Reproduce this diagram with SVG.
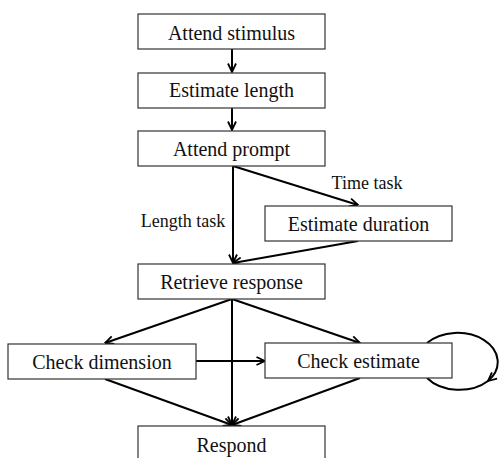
<svg xmlns="http://www.w3.org/2000/svg" width="499" height="458" viewBox="0 0 499 458">
<defs>
<style>
.box{fill:#fff;stroke:#333;stroke-width:1.2}
.lbl{font-family:"Liberation Serif","Times New Roman",serif;font-size:20px;fill:#111;text-anchor:middle}
.elbl{font-family:"Liberation Serif","Times New Roman",serif;font-size:18px;fill:#111;text-anchor:middle}
.edge{fill:none;stroke:#000;stroke-width:2}
</style>
<marker id="arr" viewBox="0 0 10 10" refX="9.5" refY="5" markerWidth="10" markerHeight="10" markerUnits="userSpaceOnUse" orient="auto">
<path d="M1,1 L9.5,5 L1,9" fill="none" stroke="#000" stroke-width="1.8"/>
</marker>
</defs>
<rect width="499" height="458" fill="#fff"/>
<g id="connectors">
<path class="edge" d="M232,49 L232,72" marker-end="url(#arr)"/>
<path class="edge" d="M232,108 L232,130" marker-end="url(#arr)"/>
<path class="edge" d="M233,166 L358,205" marker-end="url(#arr)"/>
<path class="edge" d="M233,166 L233,263" marker-end="url(#arr)"/>
<path class="edge" d="M358,241 L233,263" marker-end="url(#arr)"/>
<path class="edge" d="M232,299 L105,343" marker-end="url(#arr)"/>
<path class="edge" d="M232,299 L360,343" marker-end="url(#arr)"/>
<path class="edge" d="M232,299 L232,425" marker-end="url(#arr)"/>
<path class="edge" d="M196,361 L265,361" marker-end="url(#arr)"/>
<path class="edge" d="M105,379 L232,425" marker-end="url(#arr)"/>
<path class="edge" d="M360,378 L232,425" marker-end="url(#arr)"/>
<path class="edge" d="M427,343 A40,29 0 0 1 488,381" marker-end="url(#arr)"/>
<path class="edge" d="M488,381 A40,29 0 0 1 427,378"/>
<text class="elbl" x="367" y="189">Time task</text>
<text class="elbl" x="183" y="227">Length task</text>
</g>
<g id="n1"><rect class="box" x="138" y="14" width="187" height="35"/><text class="lbl" x="231.5" y="40">Attend stimulus</text></g>
<g id="n2"><rect class="box" x="138" y="73" width="187" height="35"/><text class="lbl" x="231.5" y="97">Estimate length</text></g>
<g id="n3"><rect class="box" x="138" y="131" width="187" height="35"/><text class="lbl" x="231.5" y="156">Attend prompt</text></g>
<g id="n4"><rect class="box" x="265" y="206" width="187" height="35"/><text class="lbl" x="358.5" y="231">Estimate duration</text></g>
<g id="n5"><rect class="box" x="138" y="264" width="187" height="35"/><text class="lbl" x="231.5" y="289">Retrieve response</text></g>
<g id="n6"><rect class="box" x="8" y="344" width="188" height="35"/><text class="lbl" x="102" y="369">Check dimension</text></g>
<g id="n7"><rect class="box" x="265" y="343" width="187" height="35"/><text class="lbl" x="358.5" y="368">Check estimate</text></g>
<g id="n8"><rect class="box" x="138" y="426" width="187" height="40"/><text class="lbl" x="231.5" y="452">Respond</text></g>
</svg>
